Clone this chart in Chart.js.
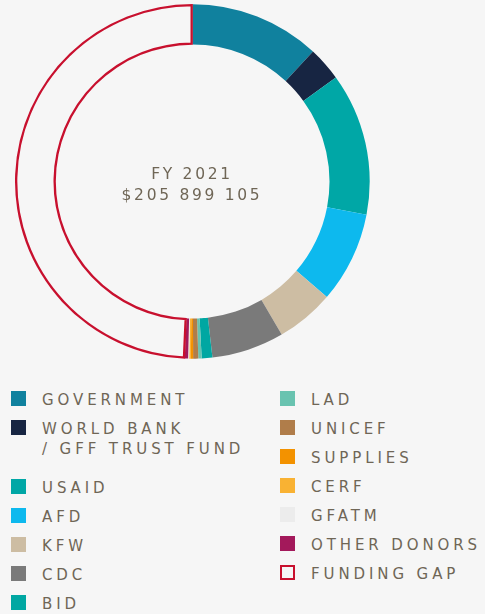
<!DOCTYPE html>
<html lang="en">
<head>
    <meta charset="UTF-8">
    <title>FY 2021 Funding</title>
    <script src="https://cdn.jsdelivr.net/npm/chart.js"></script>
    <style>
        body {
            margin: 0;
            width: 485px;
            height: 614px;
            background: #f6f6f6;
            position: relative;
            overflow: hidden;
            font-family: "DejaVu Sans", sans-serif;
            color: #6f6656;
        }

        #chartBox {
            position: absolute;
            left: 15px;
            top: 4px;
            width: 355px;
            height: 355px;
        }

        #center {
            position: absolute;
            left: 42px;
            width: 300px;
            top: 164px;
            text-align: center;
            font-size: 15.5px;
            letter-spacing: 2.7px;
            line-height: 21px;
        }

        .legendCol {
            position: absolute;
            top: 390px;
        }

        .item {
            position: relative;
            padding-left: 31px;
            font-size: 15px;
            letter-spacing: 3.9px;
            line-height: 20px;
            margin-bottom: 9px;
            white-space: nowrap;
        }

        .item .box {
            position: absolute;
            left: 0;
            top: 1px;
            width: 15px;
            height: 15px;
            box-sizing: border-box;
        }
    </style>
</head>
<body>
    <div id="chartBox"><canvas id="donut"></canvas></div>
    <div id="center">FY 2021<br>$205 899 105</div>
    <div class="legendCol" id="legendLeft" style="left:11px"></div>
    <div class="legendCol" id="legendRight" style="left:280px"></div>

    <script>
        // donors, share of FY 2021 needs (%)
        const donors = ['GOVERNMENT', 'WORLD BANK\n/ GFF TRUST FUND', 'USAID', 'AFD', 'KFW', 'CDC', 'BID',
            'LAD', 'UNICEF', 'SUPPLIES', 'CERF', 'GFATM', 'OTHER DONORS', 'FUNDING GAP'];
        const shares = [11.9, 3.1, 13.0, 8.3, 5.3, 6.6, 0.97, 0.3, 0.47, 0.2, 0.15, 0.1, 0.3, 49.3];
        const colors = ['#10819e', '#172542', '#00a7a6', '#0db9ee', '#cdbda3', '#7a7a7a', '#00a7a2',
            '#69c3b0', '#b07d4a', '#f39200', '#f9b233', '#ececec', '#a3195b', 'rgba(0,0,0,0)'];
        const gapColor = '#c8102e';

        const lastIdx = donors.length - 1;

        new Chart(document.getElementById('donut'), {
            type: 'doughnut',
            data: {
                labels: donors,
                datasets: [{
                    data: shares,
                    backgroundColor: colors,
                    borderColor: colors.map((c, i) => i === lastIdx ? gapColor : c),
                    borderWidth: colors.map((c, i) => i === lastIdx ? 2 : 0),
                    borderAlign: 'inner',
                    borderJoinStyle: 'miter'
                }]
            },
            options: {
                responsive: true,
                maintainAspectRatio: false,
                animation: false,
                cutout: '77%',
                layout: { padding: 0 },
                plugins: {
                    legend: { display: false },
                    tooltip: { enabled: false }
                }
            }
        });

        // legend, two columns
        function addItem(col, i) {
            const div = document.createElement('div');
            div.className = 'item';
            const box = document.createElement('span');
            box.className = 'box';
            if (i === lastIdx) {
                box.style.border = '2px solid ' + gapColor;
            } else {
                box.style.background = colors[i];
            }
            div.appendChild(box);
            donors[i].split('\n').forEach((line, k) => {
                if (k > 0) div.appendChild(document.createElement('br'));
                div.appendChild(document.createTextNode(line));
            });
            if (donors[i].indexOf('\n') >= 0) div.style.marginBottom = '19px';
            col.appendChild(div);
        }
        const left = document.getElementById('legendLeft');
        const right = document.getElementById('legendRight');
        for (let i = 0; i < 7; i++) addItem(left, i);
        for (let i = 7; i < donors.length; i++) addItem(right, i);
    </script>
</body>
</html>
